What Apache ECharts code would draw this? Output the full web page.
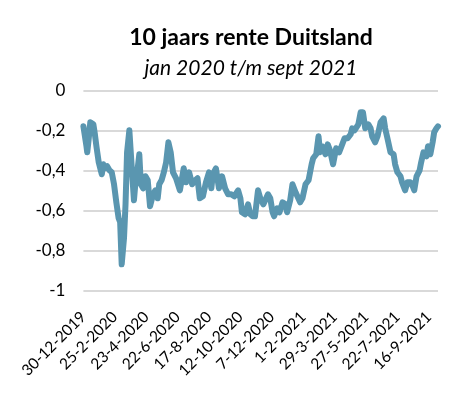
<!DOCTYPE html>
<html>
<head>
<meta charset="utf-8">
<script src="https://cdn.jsdelivr.net/npm/echarts@6/dist/echarts.min.js"></script>
<style>
html,body{margin:0;padding:0;background:#fff;}
#chart{width:471px;height:393px;}
</style>
</head>
<body>
<div id="chart"></div>
<script>
// Tick labels on the x axis (one every 41 trading days)
const tickLabels = ['30-12-2019','25-2-2020','23-4-2020','22-6-2020','17-8-2020','12-10-2020','7-12-2020','1-2-2021','29-3-2021','27-5-2021','22-7-2021','16-9-2021'];
const tickStep = 41;
// Trading-day index (0 = 30-12-2019) of each sampled point
const dayIndex = [0,2,4,5,7,9,11,13,15,17,20,24,26,28,31,34,37,40,43,46,48,50,53,55,57,60,62,64,66,68,70,73,75,78,81,84,87,91,94,97,99,102,105,108,111,114,117,121,126,131,134,138,142,146,149,152,156,160,164,167,169,173,177,181,185,189,193,197,202,205,207,211,215,218,221,224,228,231,235,237,241,244,247,249,253,256,260,264,266,270,273,277,279,283,286,290,294,298,300,304,307,309,312,316,319,322,326,330,334,338,341,345,349,351,354,356,359,362,365,368,372,375,377,381,384,388,392,394,397,401,405,407,410,414,416,420,423,427,430,432,435,439,441,444,448,450,453,456,458,461,463];
// 10-year German government bond yield (%)
const rate = [-0.18,-0.17,-0.28,-0.31,-0.24,-0.16,-0.17,-0.17,-0.22,-0.28,-0.36,-0.42,-0.37,-0.39,-0.38,-0.40,-0.41,-0.47,-0.56,-0.64,-0.66,-0.87,-0.74,-0.57,-0.31,-0.20,-0.32,-0.33,-0.55,-0.46,-0.42,-0.32,-0.47,-0.49,-0.43,-0.45,-0.58,-0.52,-0.50,-0.54,-0.47,-0.45,-0.41,-0.36,-0.26,-0.31,-0.41,-0.44,-0.50,-0.39,-0.46,-0.41,-0.47,-0.45,-0.44,-0.54,-0.53,-0.46,-0.41,-0.49,-0.42,-0.39,-0.49,-0.43,-0.49,-0.52,-0.52,-0.53,-0.50,-0.54,-0.61,-0.62,-0.57,-0.62,-0.63,-0.63,-0.50,-0.54,-0.57,-0.57,-0.52,-0.54,-0.61,-0.63,-0.59,-0.61,-0.56,-0.57,-0.61,-0.55,-0.47,-0.51,-0.50,-0.56,-0.54,-0.47,-0.45,-0.37,-0.34,-0.32,-0.23,-0.31,-0.28,-0.32,-0.27,-0.30,-0.37,-0.29,-0.31,-0.27,-0.24,-0.24,-0.22,-0.19,-0.20,-0.21,-0.17,-0.11,-0.11,-0.19,-0.17,-0.19,-0.23,-0.26,-0.23,-0.16,-0.14,-0.19,-0.24,-0.31,-0.32,-0.37,-0.41,-0.43,-0.46,-0.50,-0.46,-0.46,-0.48,-0.50,-0.43,-0.40,-0.36,-0.31,-0.33,-0.28,-0.32,-0.26,-0.21,-0.19,-0.18];
const yTicks = [0,-0.2,-0.4,-0.6,-0.8,-1];

const chart = echarts.init(document.getElementById('chart'), null, {renderer:'canvas'});
const font = 'Lato, "Liberation Sans", sans-serif';
chart.setOption({
  animation:false,
  backgroundColor:'#fff',
  graphic:[
    {type:'text', x:251, y:38, style:{text:'10 jaars rente Duitsland', font:'bold 23px '+font, fill:'#000', align:'center', verticalAlign:'middle'}},
    {type:'text', x:251, y:68, style:{text:'jan 2020 t/m sept 2021', font:'italic 21px '+font, fill:'#000', align:'center', verticalAlign:'middle'}}
  ],
  grid:{left:83.4, right:33, top:90.3, bottom:102.7, containLabel:false},
  xAxis:{
    type:'value', min:0, max:463, interval:tickStep,
    position:'bottom',
    axisLine:{show:false, onZero:false}, axisTick:{show:false}, splitLine:{show:false},
    axisLabel:{
      rotate:45, margin:24, fontFamily:font, fontSize:15.5, color:'#000',
      showMaxLabel:false,
      formatter:function(v){ return (v % tickStep === 0) ? (tickLabels[v/tickStep] || '') : ''; }
    }
  },
  yAxis:{
    type:'value', min:-1, max:0, interval:0.2,
    axisLine:{show:false}, axisTick:{show:false},
    splitLine:{lineStyle:{color:'#d9d9d9', width:2}},
    axisLabel:{
      margin:18, fontFamily:font, fontSize:17, color:'#000',
      formatter:function(v){ const t = yTicks.find(x => Math.abs(x - v) < 1e-9); return String(t === undefined ? v : t).replace('.', ','); }
    }
  },
  series:[{
    type:'line', showSymbol:false, symbol:'none',
    data: dayIndex.map((d,i)=>[d, rate[i]]),
    lineStyle:{color:'#5A96B0', width:6, join:'round', cap:'round'}
  }]
});
</script>
</body>
</html>
